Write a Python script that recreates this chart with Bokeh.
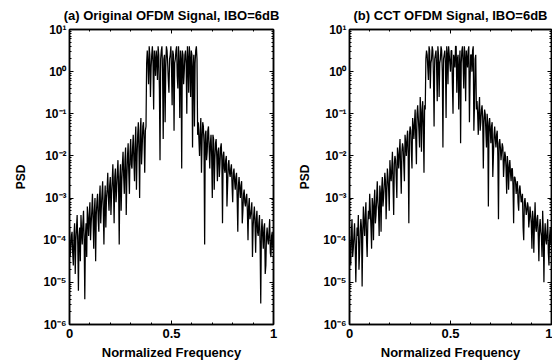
import numpy as np
from bokeh.plotting import figure
from bokeh.layouts import row
from bokeh.models import Range1d, FixedTicker, CustomJSTickFormatter, LogAxis, LinearAxis
from bokeh.embed import file_html
from bokeh.resources import INLINE

titles = ["(a) Original OFDM Signal, IBO=6dB", "(b) CCT OFDM Signal, IBO=6dB"]
x_label = "Normalized Frequency"
y_label = "PSD"
x_ticks = [0, 0.5, 1]
y_ticks = [1e1, 1e0, 1e-1, 1e-2, 1e-3, 1e-4, 1e-5, 1e-6]

# log10(PSD), 321 bins from 0 to 1
psd_a_log10 = [
    -3.7, -4.4, -4.2, -3.9, -3.8, -4.3, -4.6, -3.9, -3.6, -4.8,
    -4.0, -3.7, -3.4, -4.1, -5.2, -3.9, -3.7, -4.5, -3.4, -3.8,
    -4.1, -3.6, -3.3, -4.0, -5.4, -3.9, -3.6, -4.4, -3.2, -3.5,
    -3.9, -3.4, -3.1, -4.0, -3.6, -3.3, -2.9, -3.5, -4.2, -3.3,
    -3.0, -4.5, -3.4, -3.1, -2.9, -3.5, -3.8, -3.0, -2.7, -3.6,
    -3.2, -2.9, -2.6, -3.3, -4.1, -3.1, -2.7, -3.7, -3.0, -2.8,
    -2.4, -3.0, -3.3, -2.7, -2.5, -3.4, -2.9, -2.6, -2.2, -2.8,
    -3.6, -2.5, -2.3, -3.1, -2.8, -2.4, -2.1, -2.7, -4.1, -2.5,
    -2.2, -3.3, -2.6, -2.2, -1.9, -2.5, -2.9, -2.1, -1.8, -3.4,
    -2.5, -2.0, -1.7, -2.4, -2.9, -1.9, -1.6, -2.2, -2.3, -1.8,
    -1.5, -2.1, -2.6, -1.7, -1.3, -2.8, -2.0, -1.5, -1.2, -1.9,
    -3.0, -1.4, -1.1, -2.2, -1.8, -1.3, -1.2, -1.6, -2.4, -1.4,
    -1.3, 0.2, 0.5, 0.2, -0.3, 0.6, 0.4, -0.6, 0.1, 0.4,
    0.6, 0.2, -0.9, 0.5, 0.3, -0.1, 0.5, 0.3, -0.2, 0.6,
    0.4, -0.4, -2.1, 0.3, 0.5, 0.6, 0.0, -1.6, 0.3, 0.4,
    -1.2, 0.1, 0.6, 0.5, 0.2, -0.2, -0.5, 0.3, 0.4, 0.6,
    0.1, -0.8, 0.5, 0.4, -1.4, 0.2, 0.3, 0.5, 0.6, -0.1,
    -0.4, 0.6, 0.2, -1.1, 0.5, 0.3, -2.3, 0.5, 0.4, -0.3,
    0.0, 0.4, 0.5, 0.2, -1.0, 0.6, 0.3, -0.5, 0.6, 0.3,
    -0.6, 0.5, 0.4, -1.8, 0.1, 0.4, -1.3, 0.2, 0.5, 0.6,
    0.3, -1.5, -1.2, -1.6, -2.0, -1.4, -1.1, -2.4, -1.6, -1.2,
    -1.3, -1.7, -4.1, -1.5, -1.4, -2.1, -1.9, -1.4, -1.3, -1.8,
    -2.3, -1.7, -1.5, -2.0, -3.0, -1.5, -1.6, -2.8, -2.1, -1.7,
    -1.6, -2.0, -2.6, -1.9, -1.8, -2.5, -2.2, -1.8, -1.7, -2.1,
    -3.6, -2.0, -1.9, -2.3, -2.4, -2.1, -2.0, -3.2, -2.7, -2.2,
    -2.1, -2.4, -2.5, -2.3, -2.2, -2.7, -3.1, -2.4, -2.3, -2.6,
    -2.8, -2.5, -2.4, -3.0, -3.8, -2.7, -2.5, -2.8, -3.0, -2.7,
    -2.6, -3.6, -3.3, -2.9, -2.8, -3.1, -3.2, -3.0, -2.9, -3.3,
    -4.0, -3.2, -3.0, -3.5, -3.4, -3.3, -3.1, -4.4, -3.7, -3.4,
    -3.2, -3.6, -4.3, -3.5, -3.3, -3.8, -3.9, -3.6, -3.4, -4.1,
    -5.5, -3.8, -3.5, -3.9, -4.2, -3.7, -3.6, -4.8, -4.6, -3.9,
    -3.7, -4.0, -4.1, -3.8, -3.5, -4.3, -4.4, -3.9, -3.8, -4.2,
    -4.0,
]

psd_b_log10 = [
    -3.9, -4.3, -4.6, -3.8, -3.5, -4.4, -4.2, -3.9, -3.6, -4.1,
    -5.0, -4.2, -3.7, -3.9, -3.4, -4.7, -4.3, -3.8, -3.5, -3.7,
    -5.1, -3.9, -3.2, -3.6, -3.9, -3.4, -3.1, -4.0, -4.4, -3.6,
    -3.3, -3.5, -2.9, -3.3, -3.7, -4.2, -3.0, -3.2, -4.0, -3.1,
    -2.8, -3.6, -3.4, -3.0, -2.6, -3.1, -3.3, -3.9, -2.7, -2.9,
    -3.8, -2.8, -2.5, -3.2, -3.0, -2.7, -2.4, -2.6, -3.5, -2.9,
    -2.3, -2.5, -2.8, -3.3, -2.1, -2.4, -2.6, -2.3, -1.9, -2.7,
    -3.4, -2.2, -2.0, -2.1, -2.5, -3.0, -1.8, -2.0, -2.3, -1.9,
    -1.6, -2.3, -2.9, -1.9, -1.7, -1.8, -2.2, -2.6, -1.5, -1.7,
    -2.0, -1.6, -1.4, -2.0, -3.6, -1.5, -1.3, -1.4, -1.9, -2.3,
    -1.1, -1.3, -1.6, -1.2, -0.9, -1.6, -2.2, -1.0, -0.8, -1.1,
    -1.4, -1.8, -0.6, -0.9, -1.9, -1.0, -0.7, -1.3, -2.4, -0.8,
    -0.9, 0.3, 0.5, 0.4, 0.1, -0.2, 0.6, 0.5, -0.4, 0.2,
    0.3, 0.6, 0.5, -0.1, -1.3, 0.3, 0.4, 0.5, 0.1, -0.7,
    0.6, 0.4, -0.6, 0.2, 0.3, 0.6, 0.5, 0.0, -1.8, 0.3,
    0.4, 0.5, 0.2, -1.1, 0.6, 0.4, -0.3, 0.6, 0.4, 0.2,
    0.0, 0.5, 0.5, -0.3, -1.0, 0.4, 0.3, 0.1, 0.6, 0.6,
    -0.5, 0.3, 0.4, -0.9, 0.1, 0.5, -1.7, 0.2, 0.5, 0.6,
    0.2, -0.4, 0.6, 0.3, -0.7, 0.5, 0.3, 0.1, 0.5, 0.6,
    -1.2, -0.2, 0.4, 0.4, 0.0, 0.5, 0.6, -1.4, -0.8, 0.3,
    0.4, -0.9, -0.7, -1.0, -1.5, -0.9, -0.6, -1.4, -1.2, -0.9,
    -0.8, -1.1, -2.3, -1.2, -0.9, -1.0, -1.4, -1.8, -1.0, -1.2,
    -3.2, -1.3, -1.1, -1.4, -1.7, -1.3, -1.2, -2.5, -2.0, -1.5,
    -1.3, -1.6, -1.8, -1.5, -1.4, -2.0, -3.5, -1.7, -1.6, -1.8,
    -2.1, -1.9, -1.7, -1.8, -2.5, -2.2, -1.9, -2.0, -2.3, -2.9,
    -2.0, -2.2, -2.8, -2.3, -2.1, -2.4, -2.6, -2.3, -2.3, -2.7,
    -3.6, -2.5, -2.5, -2.6, -2.9, -2.7, -2.6, -3.1, -3.3, -2.8,
    -2.7, -2.9, -3.1, -3.0, -2.9, -3.7, -4.0, -3.1, -3.0, -3.2,
    -3.4, -3.3, -3.1, -3.2, -3.7, -3.5, -3.2, -3.4, -3.6, -4.2,
    -3.3, -3.5, -4.3, -3.6, -3.1, -3.7, -3.8, -3.5, -3.4, -3.9,
    -4.5, -3.7, -3.5, -3.8, -3.9, -4.4, -3.3, -3.8, -5.0, -3.9,
    -3.6, -4.0, -4.1, -3.8, -3.5, -4.3, -4.6, -3.9, -3.7, -4.1,
    -4.0,
]

FONT = "Liberation Sans"

SUP_JS = r"""
const e = Math.round(Math.log10(tick));
const m = {"-":"\u207B","0":"\u2070","1":"\u00B9","2":"\u00B2","3":"\u00B3","4":"\u2074","5":"\u2075","6":"\u2076","7":"\u2077","8":"\u2078","9":"\u2079"};
let s = "";
for (const c of String(e)) { s += m[c]; }
return "10" + s;
"""

minor_y = [k * 10.0 ** d for d in range(-6, 1) for k in range(2, 10)]
minor_x = [0.1, 0.2, 0.3, 0.4, 0.6, 0.7, 0.8, 0.9]


def style_axis(ax):
    ax.major_tick_in = 4
    ax.major_tick_out = 0
    ax.minor_tick_in = 2
    ax.minor_tick_out = 0
    ax.axis_line_width = 1.5
    ax.axis_line_color = "black"
    ax.major_tick_line_color = "black"
    ax.minor_tick_line_color = "black"
    ax.major_label_text_color = "black"
    ax.axis_label_text_color = "black"


def blank_axis(ax):
    style_axis(ax)
    ax.formatter = CustomJSTickFormatter(code='return "";')
    ax.major_label_text_font_size = "1px"
    ax.major_label_standoff = 0


def make_panel(title, logs, width, b_left, b_right, ylab_standoff):
    freq = np.linspace(0, 1, len(logs))
    psd = [10.0 ** v for v in logs]
    p = figure(width=width, height=362, y_axis_type="log",
               x_range=Range1d(0, 1), y_range=Range1d(1e-6, 1e1),
               output_backend="svg", toolbar_location=None,
               min_border_left=b_left, min_border_right=b_right,
               min_border_top=29, min_border_bottom=36, title=title)
    p.line(freq, psd, line_color="black", line_width=1.25)
    p.xgrid.visible = False
    p.ygrid.visible = False
    p.outline_line_color = "black"
    p.outline_line_width = 1.5
    p.background_fill_color = "white"
    p.border_fill_color = "white"

    p.title.text_font = FONT
    p.title.text_font_size = "13px"
    p.title.text_font_style = "bold"
    p.title.align = "center"
    p.title.text_color = "black"
    p.title.vertical_align = "top"

    xa = p.xaxis[0]
    style_axis(xa)
    xa.ticker = FixedTicker(ticks=x_ticks, minor_ticks=minor_x)
    xa.formatter = CustomJSTickFormatter(code="return tick.toString();")
    xa.axis_label = x_label
    xa.axis_label_text_font = FONT
    xa.axis_label_text_font_size = "13px"
    xa.axis_label_text_font_style = "bold"
    xa.axis_label_standoff = 4
    xa.major_label_text_font = FONT
    xa.major_label_text_font_size = "13px"
    xa.major_label_text_font_style = "bold"
    xa.major_label_standoff = 4

    ya = p.yaxis[0]
    style_axis(ya)
    ya.ticker = FixedTicker(ticks=y_ticks, minor_ticks=minor_y)
    ya.formatter = CustomJSTickFormatter(code=SUP_JS)
    ya.axis_label = y_label
    ya.axis_label_text_font = FONT
    ya.axis_label_text_font_size = "12px"
    ya.axis_label_text_font_style = "bold"
    ya.axis_label_standoff = ylab_standoff
    ya.major_label_text_font = FONT
    ya.major_label_text_font_size = "12px"
    ya.major_label_text_font_style = "bold"
    ya.major_label_standoff = 3

    ra = LogAxis(ticker=FixedTicker(ticks=y_ticks, minor_ticks=minor_y))
    blank_axis(ra)
    p.add_layout(ra, "right")
    ta = LinearAxis(ticker=FixedTicker(ticks=x_ticks, minor_ticks=minor_x))
    blank_axis(ta)
    p.add_layout(ta, "above")
    return p


p1 = make_panel(titles[0], psd_a_log10, 295, 69, 22, 12)
p2 = make_panel(titles[1], psd_b_log10, 257, 52, 1, 8)

layout = row(p1, p2)
open("out.html", "w").write(file_html(layout, INLINE))
